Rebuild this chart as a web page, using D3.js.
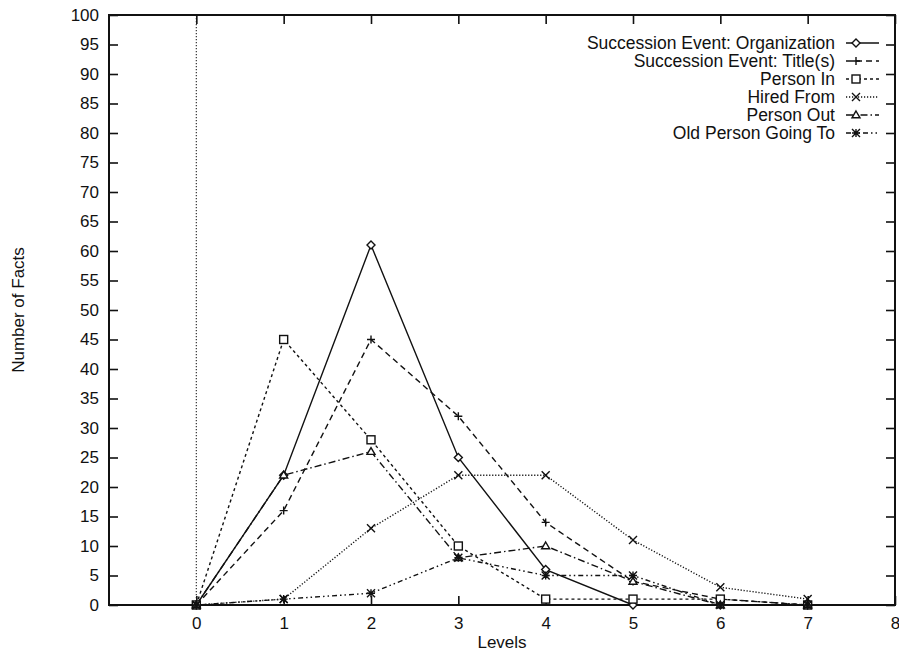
<!DOCTYPE html>
<html>
<head>
<meta charset="utf-8">
<script src="https://cdn.jsdelivr.net/npm/d3@7"></script>
<style>
  body { margin: 0; background: #fff; }
  text { font-family: "Liberation Sans", Arial, sans-serif; fill: #111; }
</style>
</head>
<body>
<script>
// chart values
const levels = [0, 1, 2, 3, 4, 5, 6, 7];
const orgFacts = [0, 22, 61, 25, 6, 0, 0, 0];
const titleFacts = [0, 16, 45, 32, 14, 4, 1, 0];
const personInFacts = [0, 45, 28, 10, 1, 1, 1, 0];
const hiredFromFacts = [0, 1, 13, 22, 22, 11, 3, 1];
const personOutFacts = [0, 22, 26, 8, 10, 4, 0, 0];
const oldPersonFacts = [0, 1, 2, 8, 5, 5, 0, 0];
const seriesNames = ["Succession Event: Organization", "Succession Event: Title(s)",
                     "Person In", "Hired From", "Person Out", "Old Person Going To"];
const xTicks = [0, 1, 2, 3, 4, 5, 6, 7, 8];
const yTicks = d3.range(0, 101, 5);

const W = 899, H = 653;
const pLeft = 109, pRight = 895, pTop = 15, pBottom = 605;

const svg = d3.select("body").append("svg")
    .attr("width", W)
    .attr("height", H);

const x = d3.scaleLinear().domain([-1, 8]).range([pLeft, pRight]);
const y = d3.scaleLinear().domain([0, 100]).range([pBottom, pTop]);

// line style + marker per series (gnuplot look)
const series = [
    { name: seriesNames[0], values: orgFacts, dash: null, mark: "diamond" },
    { name: seriesNames[1], values: titleFacts, dash: "6,4", mark: "plus" },
    { name: seriesNames[2], values: personInFacts, dash: "3,3", mark: "square" },
    { name: seriesNames[3], values: hiredFromFacts, dash: "1.2,1.8", mark: "cross" },
    { name: seriesNames[4], values: personOutFacts, dash: "7,3,1.5,3", mark: "triangle" },
    { name: seriesNames[5], values: oldPersonFacts, dash: "5,3,1.5,3,1.5,3", mark: "star" }
];

// dotted zero line at x = 0
svg.append("line")
    .attr("x1", x(0)).attr("x2", x(0))
    .attr("y1", pTop).attr("y2", pBottom)
    .attr("stroke", "#333")
    .attr("stroke-width", 1.2)
    .attr("stroke-dasharray", "1.2,1.8");

// axes, ticks pointing inwards
const axB = svg.append("g").attr("transform", `translate(0,${pBottom})`)
    .call(d3.axisBottom(x).tickValues(xTicks).tickSize(-9).tickPadding(12));
const axT = svg.append("g").attr("transform", `translate(0,${pTop})`)
    .call(d3.axisTop(x).tickValues(xTicks).tickSize(-9).tickFormat(""));
const axL = svg.append("g").attr("transform", `translate(${pLeft},0)`)
    .call(d3.axisLeft(y).tickValues(yTicks).tickSize(-9).tickPadding(10));
const axR = svg.append("g").attr("transform", `translate(${pRight},0)`)
    .call(d3.axisRight(y).tickValues(yTicks).tickSize(-9).tickFormat(""));

[axB, axT, axL, axR].forEach(g => {
    g.select(".domain").remove();
    g.selectAll(".tick line").attr("stroke", "#111").attr("stroke-width", 1.6);
    g.selectAll(".tick text").attr("font-size", 17).attr("fill", "#111")
        .style("font-family", "'Liberation Sans', Arial, sans-serif");
});

// plot border
svg.append("rect")
    .attr("x", pLeft).attr("y", pTop)
    .attr("width", pRight - pLeft).attr("height", pBottom - pTop)
    .attr("fill", "none")
    .attr("stroke", "#111")
    .attr("stroke-width", 2);

// axis titles
svg.append("text")
    .attr("x", (pLeft + pRight) / 2).attr("y", 648)
    .attr("text-anchor", "middle")
    .attr("font-size", 17)
    .text("Levels");

svg.append("text")
    .attr("transform", `translate(24,${(pTop + pBottom) / 2}) rotate(-90)`)
    .attr("text-anchor", "middle")
    .attr("font-size", 17)
    .text("Number of Facts");

// marker drawing
function drawMark(g, kind, cx, cy) {
    const s = 4;
    let p;
    if (kind === "diamond") {
        p = g.append("path").attr("d", `M${cx},${cy - s}L${cx + s},${cy}L${cx},${cy + s}L${cx - s},${cy}Z`).attr("fill", "#fff");
    } else if (kind === "plus") {
        p = g.append("path").attr("d", `M${cx - s},${cy}H${cx + s}M${cx},${cy - s}V${cy + s}`).attr("fill", "none");
    } else if (kind === "square") {
        p = g.append("rect").attr("x", cx - s).attr("y", cy - s).attr("width", 2 * s).attr("height", 2 * s).attr("fill", "#fff");
    } else if (kind === "cross") {
        p = g.append("path").attr("d", `M${cx - s},${cy - s}L${cx + s},${cy + s}M${cx - s},${cy + s}L${cx + s},${cy - s}`).attr("fill", "none");
    } else if (kind === "triangle") {
        p = g.append("path").attr("d", `M${cx},${cy - s}L${cx + s},${cy + s * 0.7}L${cx - s},${cy + s * 0.7}Z`).attr("fill", "#fff");
    } else {
        p = g.append("path").attr("d", `M${cx - s},${cy}H${cx + s}M${cx},${cy - s}V${cy + s}M${cx - s},${cy - s}L${cx + s},${cy + s}M${cx - s},${cy + s}L${cx + s},${cy - s}`).attr("fill", "none");
    }
    p.attr("stroke", "#111").attr("stroke-width", 1.4);
}

const line = d3.line()
    .x((d, i) => x(levels[i]))
    .y(d => y(d));

series.forEach(s => {
    svg.append("path")
        .datum(s.values)
        .attr("d", line)
        .attr("fill", "none")
        .attr("stroke", "#111")
        .attr("stroke-width", 1.4)
        .attr("stroke-dasharray", s.dash);
});

series.forEach(s => {
    const g = svg.append("g");
    s.values.forEach((v, i) => drawMark(g, s.mark, x(levels[i]), y(v)));
});

// legend
const legend = svg.append("g");
series.forEach((s, i) => {
    const ly = 43 + i * 18;
    legend.append("text")
        .attr("x", 835).attr("y", ly)
        .attr("dy", "0.36em")
        .attr("text-anchor", "end")
        .attr("font-size", 17.5)
        .text(s.name);
    legend.append("line")
        .attr("x1", 846).attr("x2", 879)
        .attr("y1", ly).attr("y2", ly)
        .attr("stroke", "#111")
        .attr("stroke-width", 1.4)
        .attr("stroke-dasharray", s.dash);
    drawMark(legend, s.mark, 856, ly);
});
</script>
</body>
</html>
